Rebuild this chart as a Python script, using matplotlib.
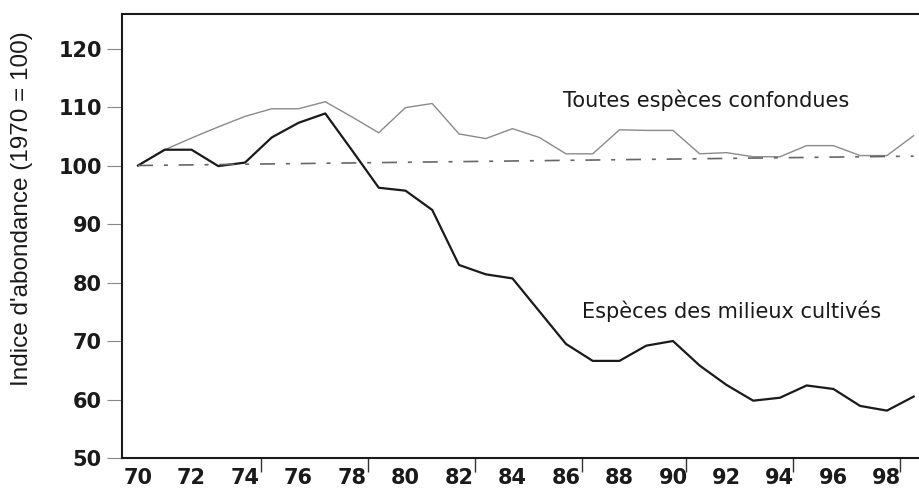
import matplotlib
matplotlib.use("Agg")
import matplotlib.pyplot as plt
import numpy as np

years = list(range(1970, 2000))
toutes = [100, 102.7, 104.7, 106.6, 108.4, 109.7, 109.7, 110.9, 108.3, 105.6,
          109.9, 110.6, 105.4, 104.6, 106.3, 104.8, 102.0, 102.0, 106.1, 106.0,
          106.0, 102.0, 102.2, 101.5, 101.5, 103.4, 103.4, 101.7, 101.7, 105.1]
cultives = [100, 102.7, 102.7, 99.9, 100.5, 104.8, 107.3, 108.9, 102.6, 96.2,
            95.7, 92.4, 83.0, 81.4, 80.7, 75.1, 69.5, 66.6, 66.6, 69.2,
            70.0, 65.8, 62.5, 59.8, 60.3, 62.4, 61.8, 58.9, 58.1, 60.5]
ref_years = [1970, 1999]
ref_values = [100, 101.6]
xtick_years = list(range(1970, 2000, 2))
xtick_labels = [str(y % 100) for y in xtick_years]
yticks = [50, 60, 70, 80, 90, 100, 110, 120]

fig = plt.figure(figsize=(9.19, 4.9), dpi=100)
ax = fig.add_axes([122/919, 32/490, (919-122)/919, 444/490])

ax.plot(years, toutes, color="#8a8a8a", lw=1.0)
ax.plot(years, cultives, color="#1a1a1a", lw=1.6)
ax.plot(ref_years, ref_values, color="#666666", lw=1.2, dashes=(9, 6.5, 2.4, 6.5))

ax.set_xlim(1969.4, 1999.2)
ax.set_ylim(50, 125.9)

ax.set_yticks(yticks)
ax.set_yticklabels([str(v) for v in yticks], fontsize=15, fontweight="bold",
                   family="DejaVu Sans", color="#1a1a1a")
ax.tick_params(axis="y", direction="out", length=11, width=0.8, color="#888888", pad=3.5)

ax.set_xticks(xtick_years)
ax.set_xticklabels(xtick_labels, fontsize=15, fontweight="bold",
                   family="DejaVu Sans", color="#1a1a1a")
ax.tick_params(axis="x", which="major", length=0, pad=7)
ax.set_xticks([1974.6, 1978.6, 1982.6, 1986.6, 1990.5, 1994.5, 1998.5], minor=True)
ax.tick_params(axis="x", which="minor", direction="out", length=10, width=1.0, color="#333333")

for s in ["left", "bottom", "top"]:
    ax.spines[s].set_linewidth(1.5)
    ax.spines[s].set_color("#1a1a1a")
ax.spines["right"].set_visible(False)

ax.text(1985.9, 111.2, "Toutes espèces confondues", fontsize=15,
        family="DejaVu Sans", va="center", ha="left", color="#1a1a1a")
ax.text(1986.6, 75.1, "Espèces des milieux cultivés", fontsize=15,
        family="DejaVu Sans", va="center", ha="left", color="#1a1a1a")

fig.text(22/919, 1 - 209/490, "Indice d'abondance (1970 = 100)", rotation=90,
         fontsize=17.5, family="Liberation Sans", va="center", ha="center", color="#1a1a1a")

fig.savefig("out.png", dpi=100)
